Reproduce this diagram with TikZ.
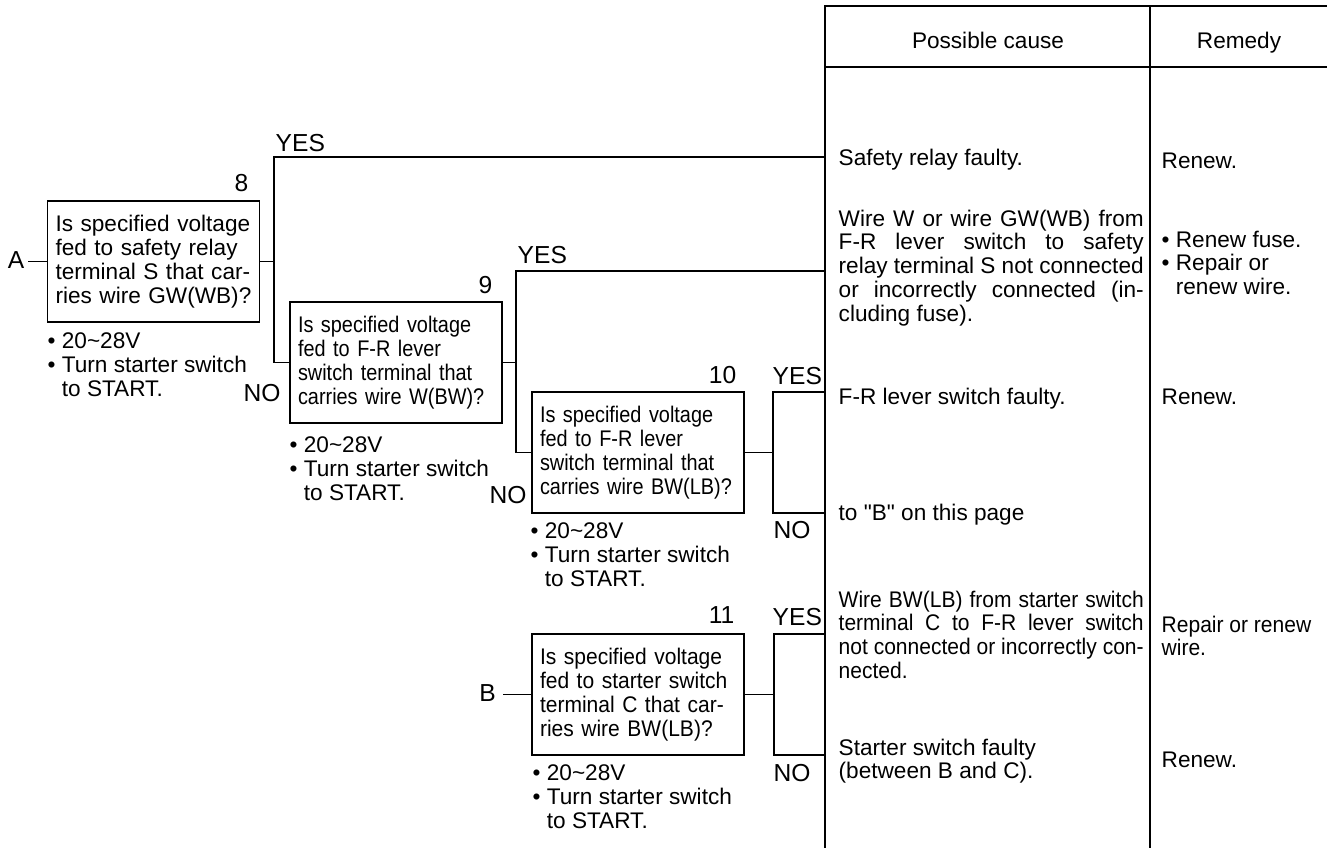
\documentclass[tikz,border=0pt]{standalone}
\usepackage{fontspec}
\setmainfont{Liberation Sans}
\newfontfamily\narrowfont[FakeStretch=0.88]{Liberation Sans}
\newfontfamily\slimfont[FakeStretch=0.93]{Liberation Sans}
\newcommand\chartsize{\fontsize{11.3}{11.9}\selectfont}
\newcommand\labelsize{\fontsize{12.3}{13}\selectfont}
\tolerance=10000

\begin{document}
\begin{tikzpicture}[x=0.5pt, y=-0.5pt, line width=0.7pt,
        every node/.style={font=\chartsize},
        question/.style={draw, minimum width=106pt, minimum height=60.5pt,
            text width=98pt, inner xsep=4pt, inner ysep=0pt, align=left},
        tag/.style={inner sep=0pt},
        answer/.style={inner sep=0pt, font=\labelsize},
        note/.style={inner sep=0pt, anchor=north west, align=left},
        cause/.style={inner sep=0pt, anchor=north west, text width=152.5pt, align=justify}]
        \useasboundingbox (0,0) rectangle (1327,848);

        % table frame
        \coordinate (tl) at (825,6);
        \coordinate (tm) at (1150,6);
        \draw (1327,6) -- (tl) -- (825,848);
        \draw (tm) -- (1150,848);
        \draw (825,67) -- (1327,67);
        \node[tag, anchor=base] (hcause) at (988,48) {Possible cause};
        \node[tag, anchor=base] (hremedy) at (1239,48) {Remedy};

        % question boxes
        \node[question] (q8) at (153.5,261.5) {Is specified voltage\\fed to safety relay\\terminal S that car-\\ries wire GW(WB)?};
        \node[question, font=\narrowfont\chartsize] (q9) at (396,362.5) {Is specified voltage\\fed to F-R lever\\switch terminal that\\carries wire W(BW)?};
        \node[question, font=\narrowfont\chartsize] (q10) at (638,452.5) {Is specified voltage\\fed to F-R lever\\switch terminal that\\carries wire BW(LB)?};
        \node[question, font=\slimfont\chartsize] (q11) at (638,694.5) {Is specified voltage\\fed to starter switch\\terminal C that car-\\ries wire BW(LB)?};

        \node[answer, anchor=base east] (num8) at (249,191) {8};
        \node[answer, anchor=base east] (num9) at (493,293) {9};
        \node[answer, anchor=base east] (num10) at (737,383) {10};
        \node[answer, anchor=base east] (num11) at (735,623) {11};

        % check conditions under each box
        \node[note] (cond8) at (47,332) {\textbullet\ 20\textasciitilde 28V\\\textbullet\ Turn starter switch\\\hphantom{\textbullet\ }to START.};
        \node[note] (cond9) at (289,436) {\textbullet\ 20\textasciitilde 28V\\\textbullet\ Turn starter switch\\\hphantom{\textbullet\ }to START.};
        \node[note] (cond10) at (530,522) {\textbullet\ 20\textasciitilde 28V\\\textbullet\ Turn starter switch\\\hphantom{\textbullet\ }to START.};
        \node[note] (cond11) at (532,764) {\textbullet\ 20\textasciitilde 28V\\\textbullet\ Turn starter switch\\\hphantom{\textbullet\ }to START.};

        % entry points
        \node[answer, inner xsep=1.5pt, anchor=base] (A) at (16,268) {A};
        \node[answer, inner xsep=3.5pt, anchor=base] (B) at (487.5,701) {B};
        \draw (q8.west) -- (q8.west -| A.east);
        \draw (q11.west) -- (q11.west -| B.east);

        % branches
        \coordinate (y8) at (274,157);
        \coordinate (y9) at (516,271);
        \coordinate (y10) at (773,392);
        \coordinate (n10) at (773,513);
        \coordinate (y11) at (774,634);
        \coordinate (n11) at (774,755);

        \draw (q8.east) -- (q8.east -| y8);
        \draw (q9.west) -| (y8) -- (y8 -| tl);
        \draw (q9.east) -- (q9.east -| y9);
        \draw (q10.west) -| (y9) -- (y9 -| tl);
        \draw (q10.east) -- (q10.east -| y10);
        \draw (y10 -| tl) -- (y10) -- (n10) -- (n10 -| tl);
        \draw (q11.east) -- (q11.east -| y11);
        \draw (y11 -| tl) -- (y11) -- (n11) -- (n11 -| tl);

        \node[answer, anchor=base west] (yes8) at (275,151) {YES};
        \node[answer, anchor=base west] (no8) at (243,401) {NO};
        \node[answer, anchor=base west] (yes9) at (517,263) {YES};
        \node[answer, anchor=base west] (no9) at (489,503) {NO};
        \node[answer, anchor=base west] (yes10) at (772,384) {YES};
        \node[answer, anchor=base west] (no10) at (773,538) {NO};
        \node[answer, anchor=base west] (yes11) at (772,625) {YES};
        \node[answer, anchor=base west] (no11) at (773,781) {NO};

        % causes and remedies
        \node[tag, anchor=base west] (c1) at (838,165) {Safety relay faulty.};
        \node[tag, anchor=base west] (r1) at (1161,168) {Renew.};
        \node[cause] (c2) at (838,209) {Wire W or wire GW(WB) from\linebreak F-R lever switch to safety\linebreak relay terminal S not connected\linebreak or incorrectly connected (in-\linebreak cluding fuse).};
        \node[note] (r2) at (1161,230) {\textbullet\ Renew fuse.\\\textbullet\ Repair or\\\hphantom{\textbullet\ }renew wire.};
        \node[tag, anchor=base west] (c3) at (838,404) {F-R lever switch faulty.};
        \node[tag, anchor=base west] (r3) at (1161,404) {Renew.};
        \node[tag, anchor=base west] (c4) at (838,520) {to \textquotedbl B\textquotedbl\ on this page};
        \node[cause, font=\slimfont\chartsize] (c5) at (838,590) {Wire BW(LB) from starter switch\linebreak terminal C to F-R lever switch\linebreak not connected or incorrectly con-\linebreak nected.};
        \node[note, font=\slimfont\chartsize] (r5) at (1161,615) {Repair or renew\\wire.};
        \node[note] (c6) at (838,738) {Starter switch faulty\\(between B and C).};
        \node[tag, anchor=base west] (r6) at (1161,767.5) {Renew.};
    \end{tikzpicture}
\end{document}
